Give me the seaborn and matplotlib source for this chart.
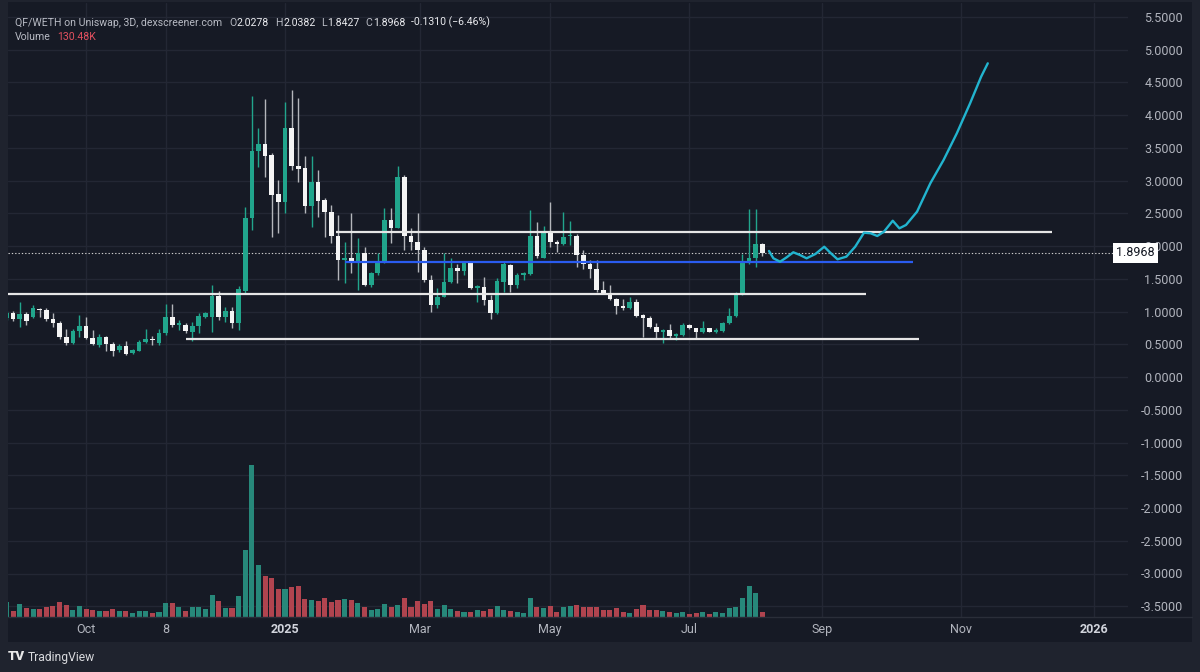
import numpy as np
import pandas as pd
import matplotlib
matplotlib.use("Agg")
import matplotlib.pyplot as plt
import matplotlib.dates as mdates
from matplotlib.patches import Rectangle
from matplotlib.lines import Line2D
import seaborn as sns

# ---------------- data ----------------
start_date = "2024-08-28"
candle_days = 3

open_ = [0.900, 0.982, 0.881, 0.962, 0.911, 1.043, 1.027, 0.881, 0.829, 0.615,
         0.524, 0.707, 0.783, 0.595, 0.489, 0.615, 0.504, 0.412, 0.478, 0.362,
         0.402, 0.534, 0.576, 0.514, 0.667, 0.911, 0.789, 0.798, 0.692, 0.779,
         0.911, 0.921, 1.237, 0.921, 1.012, 0.820, 1.318, 2.423, 3.455, 3.557,
         3.385, 2.789, 2.676, 3.797, 3.221, 3.186, 2.611, 2.982, 2.702, 2.524,
         2.153, 1.786, 1.821, 1.760, 1.898, 1.405, 1.583, 1.745, 2.397, 2.279,
         3.058, 2.160, 2.066, 1.939, 1.481, 1.099, 1.226, 1.455, 1.669, 1.618,
         1.736, 1.354, 1.379, 1.176, 0.973, 1.455, 1.710, 1.405, 1.557, 1.568,
         2.153, 1.821, 2.218, 2.066, 2.035, 2.148, 2.157, 1.863, 1.721, 1.649,
         1.328, 1.278, 1.186, 1.089, 1.049, 1.140, 0.947, 0.905, 0.768, 0.682,
         0.718, 0.621, 0.641, 0.794, 0.744, 0.682, 0.753, 0.692, 0.702, 0.820,
         0.936, 1.263, 1.736, 1.821, 2.0278]
high = [1.008, 1.008, 1.150, 0.988, 1.095, 1.053, 1.049, 0.973, 0.850, 0.728,
        0.728, 0.947, 0.911, 0.718, 0.656, 0.626, 0.534, 0.499, 0.550, 0.427,
        0.565, 0.728, 0.626, 0.728, 1.110, 1.115, 0.870, 0.829, 0.844, 0.973,
        0.997, 1.405, 1.318, 1.064, 1.064, 1.389, 2.591, 4.290, 3.797, 4.244,
        3.415, 3.008, 4.203, 4.382, 4.255, 3.374, 3.374, 3.160, 2.728, 2.626,
        2.473, 2.066, 2.499, 2.118, 1.989, 1.608, 1.898, 2.576, 2.576, 3.221,
        3.084, 2.279, 2.499, 1.989, 1.557, 1.354, 1.889, 1.812, 1.721, 1.760,
        1.751, 1.405, 1.531, 1.252, 1.507, 1.760, 1.730, 1.583, 1.608, 2.550,
        2.371, 2.310, 2.667, 2.092, 2.515, 2.382, 2.179, 1.939, 1.786, 1.786,
        1.466, 1.405, 1.202, 1.191, 1.226, 1.191, 0.957, 0.936, 0.820, 0.733,
        0.805, 0.667, 0.820, 0.805, 0.744, 0.855, 0.753, 0.753, 0.844, 1.058,
        1.293, 1.873, 2.565, 2.565, 2.0382]
low = [0.870, 0.860, 0.759, 0.794, 0.896, 0.911, 0.860, 0.759, 0.585, 0.489,
       0.504, 0.606, 0.576, 0.489, 0.463, 0.402, 0.321, 0.386, 0.331, 0.351,
       0.392, 0.514, 0.489, 0.493, 0.641, 0.768, 0.718, 0.667, 0.554, 0.667,
       0.896, 0.692, 0.870, 0.840, 0.744, 0.718, 1.278, 2.244, 3.211, 3.058,
       2.142, 2.194, 2.508, 3.160, 2.982, 2.499, 2.295, 2.447, 2.133, 2.041,
       1.481, 1.431, 1.592, 1.328, 1.389, 1.379, 1.557, 1.736, 2.041, 2.270,
       1.939, 1.939, 1.608, 1.455, 0.997, 1.049, 1.226, 1.431, 1.431, 1.557,
       1.344, 1.150, 1.099, 0.885, 0.957, 1.302, 1.293, 1.363, 1.481, 1.557,
       1.812, 1.812, 1.989, 1.913, 2.015, 2.015, 1.684, 1.649, 1.507, 1.302,
       1.263, 1.171, 0.957, 1.023, 1.038, 0.921, 0.615, 0.744, 0.600, 0.514,
       0.600, 0.565, 0.631, 0.733, 0.591, 0.672, 0.682, 0.667, 0.692, 0.805,
       0.921, 1.252, 1.721, 1.684, 1.8427]
close = [0.977, 0.881, 0.962, 0.850, 1.053, 1.023, 0.885, 0.820, 0.606, 0.524,
         0.707, 0.783, 0.595, 0.499, 0.606, 0.499, 0.402, 0.473, 0.351, 0.412,
         0.539, 0.576, 0.565, 0.667, 0.911, 0.789, 0.820, 0.698, 0.779, 0.931,
         0.973, 1.237, 0.911, 1.012, 0.820, 1.339, 2.423, 3.455, 3.557, 3.374,
         2.779, 2.676, 3.797, 3.221, 3.180, 2.611, 2.982, 2.692, 2.524, 2.153,
         1.786, 1.821, 1.760, 1.898, 1.405, 1.583, 1.745, 2.397, 2.279, 3.058,
         2.160, 2.066, 1.939, 1.481, 1.099, 1.226, 1.455, 1.669, 1.618, 1.751,
         1.354, 1.394, 1.176, 0.973, 1.466, 1.721, 1.405, 1.557, 1.583, 2.157,
         1.847, 2.229, 2.066, 2.035, 2.142, 2.157, 1.863, 1.721, 1.649, 1.328,
         1.278, 1.191, 1.089, 1.049, 1.140, 0.936, 0.905, 0.768, 0.682, 0.718,
         0.631, 0.652, 0.794, 0.744, 0.682, 0.753, 0.682, 0.718, 0.820, 0.936,
         1.267, 1.751, 1.821, 2.028, 1.8968]
volume_k = [455, 173, 373, 251, 221, 221, 303, 333, 455, 342,
            203, 324, 221, 191, 173, 173, 221, 173, 173, 121,
            161, 161, 100, 152, 403, 424, 294, 161, 303, 294,
            233, 645, 476, 273, 273, 627, 2030, 4596, 1576, 1221,
            1160, 848, 827, 909, 930, 524, 494, 476, 576, 445,
            515, 545, 494, 403, 303, 191, 221, 394, 303, 364,
            554, 282, 464, 385, 485, 233, 355, 221, 161, 142,
            130, 203, 182, 233, 324, 203, 173, 130, 100, 554,
            294, 251, 333, 152, 282, 324, 364, 303, 282, 303,
            203, 203, 251, 130, 100, 233, 364, 203, 203, 182,
            130, 100, 130, 82, 112, 130, 82, 152, 112, 251,
            303, 567, 939, 706, 130.48]

# drawn horizontal levels
level_prices = [2.22, 1.76, 1.26, 0.578]
level_starts = ["2025-01-24", "2025-01-28", "2024-08-01", "2024-11-17"]
level_ends = ["2025-12-14", "2025-10-12", "2025-09-21", "2025-10-15"]

# drawn projection path
path_dates = ["2025-08-08", "2025-08-10", "2025-08-13", "2025-08-16", "2025-08-19",
              "2025-08-22", "2025-08-25", "2025-08-29", "2025-09-02", "2025-09-05",
              "2025-09-08", "2025-09-12", "2025-09-16", "2025-09-20", "2025-09-23",
              "2025-09-26", "2025-09-29", "2025-10-03", "2025-10-06", "2025-10-09",
              "2025-10-14", "2025-10-20", "2025-10-26", "2025-11-01", "2025-11-07",
              "2025-11-12", "2025-11-15"]
path_prices = [1.924, 1.812, 1.760, 1.827, 1.904, 1.863, 1.812, 1.878, 1.989, 1.889,
               1.797, 1.837, 1.989, 2.203, 2.194, 2.153, 2.218, 2.386, 2.270, 2.321,
               2.524, 2.957, 3.313, 3.721, 4.179, 4.585, 4.789]

last_price = 1.8968
price_ticks = [5.5, 5.0, 4.5, 4.0, 3.5, 3.0, 2.5, 2.0, 1.5, 1.0, 0.5, 0.0,
               -0.5, -1.0, -1.5, -2.0, -2.5, -3.0, -3.5]
time_tick_dates = ["2024-10-03", "2024-11-08", "2025-01-01", "2025-03-03", "2025-05-01",
                   "2025-07-03", "2025-09-01", "2025-11-03", "2026-01-02"]
time_tick_labels = ["Oct", "8", "2025", "Mar", "May", "Jul", "Sep", "Nov", "2026"]
year_labels = ["2025", "2026"]

header_pair = "QF/WETH on Uniswap, 3D, dexscreener.com"
ohlc_names = ["O", "H", "L", "C"]
ohlc_values = ["2.0278", "2.0382", "1.8427", "1.8968"]
change_text = "-0.1310 (\u22126.46%)"
volume_text = "130.48K"

# ---------------- style ----------------
W, H = 1200, 672
BG = "#161a25"
OUTER = "#1f232e"
GRID = "#232734"
TXT = "#b2b5be"
UP = "#21a58c"
DOWN_BODY = "#f4f4f4"
DOWN_WICK = "#b4b6bb"
VOL_UP = "#27887a"
VOL_DOWN = "#b0444f"

sns.set_theme(style="dark", rc={"axes.facecolor": BG, "figure.facecolor": OUTER})
plt.rcParams["font.family"] = ["Roboto", "DejaVu Sans"]
plt.rcParams["axes.unicode_minus"] = False

fig = plt.figure(figsize=(W / 100, H / 100), dpi=100)
fig.patch.set_facecolor(OUTER)
# dark chart panel (chart + scales)
fig.patches.append(Rectangle((8 / W, (H - 641.7) / H), (1192 - 8) / W, (641.7 - 2) / H,
                             transform=fig.transFigure, facecolor=BG, edgecolor="none",
                             zorder=-5))

ax_top, ax_bot = 3.0, 616.7
ax = fig.add_axes([8 / W, (H - ax_bot) / H, (1128 - 8) / W, (ax_bot - ax_top) / H])
ax.set_facecolor(BG)

# coordinates
dates = pd.date_range(start_date, periods=len(open_), freq=f"{candle_days}D")
x = mdates.date2num(dates)
o = np.array(open_); h = np.array(high); l = np.array(low); c = np.array(close)
up = c >= o

# volume overlay
vax = ax.twinx()
vax.bar(x, volume_k, width=2.3, color=np.where(up, VOL_UP, VOL_DOWN), linewidth=0, zorder=2)
vax.set_ylim(0, max(volume_k) * (ax_bot - ax_top) / 151.7)
vax.axis("off")

# candles
ax.vlines(x, l, h, colors=np.where(up, UP, DOWN_WICK), linewidth=1.0, zorder=3)
body_bottom = np.minimum(o, c)
body_h = np.maximum(np.abs(c - o), 0.018)
ax.bar(x, body_h, bottom=body_bottom, width=2.1, color=np.where(up, UP, DOWN_BODY),
       linewidth=0, zorder=4)

# drawn levels
level_colors = ["#e6e6e6", "#2a5cf0", "#e6e6e6", "#e6e6e6"]
for p, s, e, col in zip(level_prices, level_starts, level_ends, level_colors):
    xs = mdates.date2num(pd.to_datetime([s, e]))
    sns.lineplot(x=xs, y=[p, p], ax=ax, color=col, linewidth=1.6, zorder=5,
                 solid_capstyle="butt", legend=False)

# projection path
px = mdates.date2num(pd.to_datetime(path_dates))
sns.lineplot(x=px, y=path_prices, ax=ax, sort=False, color="#22b4cf", linewidth=1.7,
             zorder=6, solid_capstyle="round", solid_joinstyle="round", legend=False)

# last price dotted line
ax.axhline(last_price, color="#d0d0d0", linewidth=0.8, linestyle=(0, (1.2, 1.8)), zorder=2)

# axes limits
jan1 = mdates.date2num(pd.Timestamp("2025-01-01"))
ax.set_xlim(jan1 - 125.34, jan1 + 381.45)
ax.set_ylim((377 - ax_bot) / 65.5, (377 - ax_top) / 65.5)

# y axis on right
ax.yaxis.tick_right()
ax.set_yticks(price_ticks)
ax.set_yticklabels([f"{v:.4f}" for v in price_ticks])
ax.tick_params(axis="y", length=0, pad=39.6, labelsize=9, labelcolor=TXT)
for t in ax.get_yticklabels():
    t.set_horizontalalignment("right")

# x axis
tx = mdates.date2num(pd.to_datetime(time_tick_dates))
ax.set_xticks(tx)
ax.set_xticklabels(time_tick_labels)
ax.tick_params(axis="x", length=0, pad=4.5, labelsize=9, labelcolor=TXT)
for t in ax.get_xticklabels():
    if t.get_text() in year_labels:
        t.set_fontweight("bold")
        t.set_color("#d1d4dc")

ax.grid(True, color=GRID, linewidth=1.0)
ax.set_axisbelow(True)
for sp in ax.spines.values():
    sp.set_visible(False)
ax.set_xlabel(""); ax.set_ylabel("")

# separator line under chart
fig.add_artist(Line2D([8 / W, 1192 / W], [(H - ax_bot) / H] * 2, transform=fig.transFigure,
                      color="#2a2e39", linewidth=1.0))

# last price box
ax.text((1116 - 8) / (1128 - 8), last_price, f"{last_price:.4f}", transform=ax.get_yaxis_transform(),
        ha="left", va="center", fontsize=9, color="#131722", clip_on=False, zorder=20,
        bbox=dict(boxstyle="square,pad=0.28", facecolor="white", edgecolor="none"))

# header texts chained
renderer = fig.canvas.get_renderer()


def chain(x_px, y_px, parts, size=7.6):
    xc = x_px
    for s, col, gap, wt in parts:
        t = fig.text(xc / W, 1 - y_px / H, s, color=col, fontsize=size, fontweight=wt,
                     ha="left", va="center")
        bb = t.get_window_extent(renderer=renderer)
        xc = bb.x1 + gap


GRAY = "#b8bbc4"
WHITE = "#e9eaee"
parts = [(header_pair, GRAY, 7, "normal")]
for n, v in zip(ohlc_names, ohlc_values):
    parts.append((n, GRAY, 0.5, "normal"))
    parts.append((v, WHITE, 6, "normal"))
parts.append((change_text, WHITE, 0, "normal"))
chain(15, 22.5, parts)
chain(15, 37.5, [("Volume", GRAY, 6, "normal"), (volume_text, "#e2505f", 0, "normal")])

# footer logo
fig.text(8 / W, 1 - 657 / H, "TV", color="#e8e8e8", fontsize=9.5, fontweight="heavy",
         ha="left", va="center")
fig.text(28 / W, 1 - 657 / H, "TradingView", color="#d8d9dd", fontsize=8.7,
         ha="left", va="center")

fig.savefig("out.png", dpi=100, facecolor=fig.get_facecolor())
